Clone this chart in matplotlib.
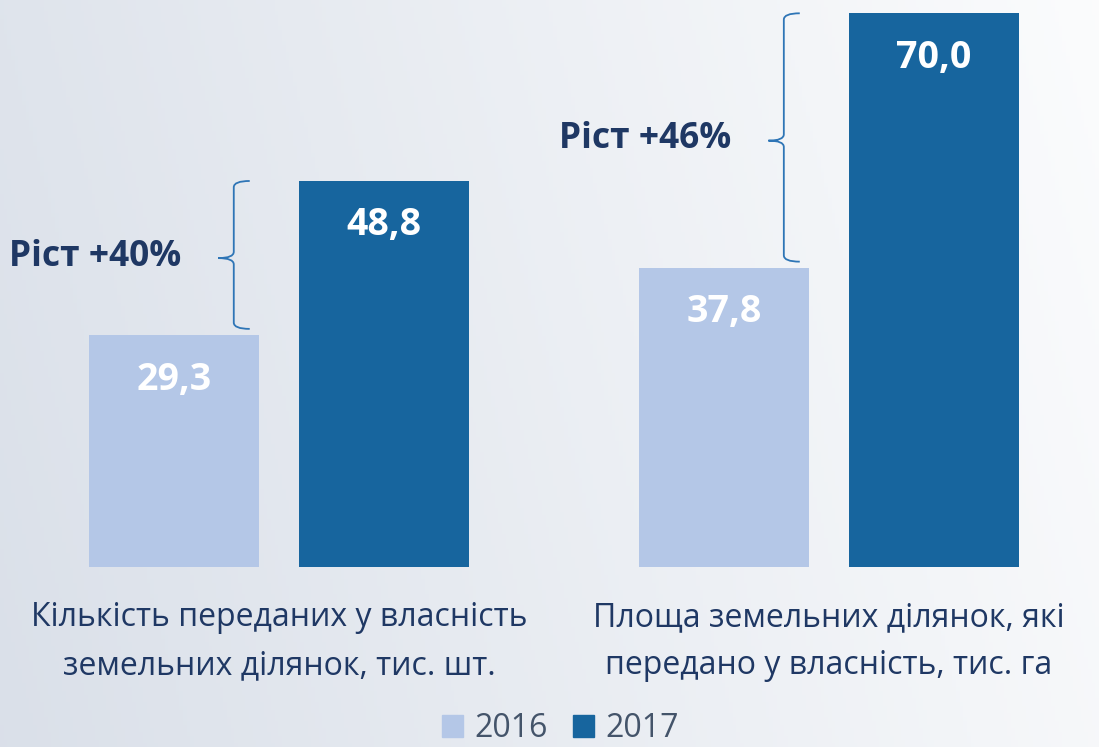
import matplotlib
matplotlib.use('Agg')
import matplotlib.pyplot as plt
import numpy as np
from matplotlib.path import Path
from matplotlib.patches import PathPatch, Patch

# data
groups = ['Кількість переданих у власність\nземельних ділянок, тис. шт.',
          'Площа земельних ділянок, які\nпередано у власність, тис. га']
v2016 = [29.3, 37.8]
v2017 = [48.8, 70.0]
growth = ['Ріст +40%', 'Ріст +46%']
years = ['2016', '2017']

c16 = '#b4c7e7'
c17 = '#17659e'
navy = '#1f3864'
brace_col = '#2e75b6'

plt.rcParams['font.family'] = ['Open Sans', 'DejaVu Sans']

fig = plt.figure(figsize=(10.99, 7.47), dpi=100)
ax = fig.add_axes([0, 0, 1, 1])
xlim = (-0.507, 1.491)
ylim = (-22.76, 71.68)
ax.set_xlim(*xlim)
ax.set_ylim(*ylim)
ax.axis('off')

# background gradient (grey-blue on the left, almost white on the right)
gx, gy = np.meshgrid(np.linspace(0, 1, 300), np.linspace(0, 1, 200))
t = np.clip(0.85 * gx + 0.15 * (1 - gy), 0, 1)
left = np.array([0.855, 0.878, 0.914])
right = np.array([0.985, 0.988, 0.992])
img = left[None, None, :] * (1 - t[..., None]) + right[None, None, :] * t[..., None]
ax.imshow(img, extent=(xlim[0], xlim[1], ylim[0], ylim[1]), aspect='auto',
          origin='upper', zorder=0)

x = np.arange(len(groups))
w = 0.309
off = 0.191
ax.bar(x - off, v2016, w, color=c16, zorder=2)
ax.bar(x + off, v2017, w, color=c17, zorder=2)

for xi, a, b in zip(x, v2016, v2017):
    ax.text(xi - off, a - 5.6, f'{a:.1f}'.replace('.', ','), ha='center', va='center',
            color='white', fontsize=27, fontweight='bold', zorder=3)
    ax.text(xi + off, b - 5.6, f'{b:.1f}'.replace('.', ','), ha='center', va='center',
            color='white', fontsize=27, fontweight='bold', zorder=3)

# braces
for xi, a, b, g in zip(x, v2016, v2017, growth):
    xv = xi - 0.082
    xh = xi - 0.053
    xt = xi - 0.11
    yt = b
    yb = a + 0.8
    ym = (a + b) / 2
    r = 0.8
    verts = [(xh, yt), (xv, yt), (xv, yt - r),
             (xv, ym + r), (xv, ym), (xt, ym),
             (xv, ym), (xv, ym - r),
             (xv, yb + r), (xv, yb), (xh, yb)]
    codes = [Path.MOVETO, Path.CURVE3, Path.CURVE3,
             Path.LINETO, Path.CURVE3, Path.CURVE3,
             Path.CURVE3, Path.CURVE3,
             Path.LINETO, Path.CURVE3, Path.CURVE3]
    ax.add_patch(PathPatch(Path(verts, codes), fill=False, edgecolor=brace_col,
                           lw=1.3, zorder=3))
    ax.text(xt - 0.067, ym + 0.2, g, ha='right', va='center', color=navy,
            fontsize=25.5, fontweight='bold', zorder=3)

# category captions, one text per line
for xi, g in zip(x, groups):
    for k, line in enumerate(g.split('\n')):
        ax.text(xi, -6.4 - k * 6.1, line, ha='center', va='center', color=navy,
                fontsize=23, zorder=3)

handles = [Patch(color=c16), Patch(color=c17)]
leg = ax.legend(handles, years, loc='lower center', bbox_to_anchor=(0.51, -0.036),
                ncol=2, frameon=False, fontsize=23, handlelength=0.65,
                handleheight=0.65, handletextpad=0.35, columnspacing=0.8)
for t_ in leg.get_texts():
    t_.set_color('#44546a')

fig.savefig('out.png', dpi=100)
